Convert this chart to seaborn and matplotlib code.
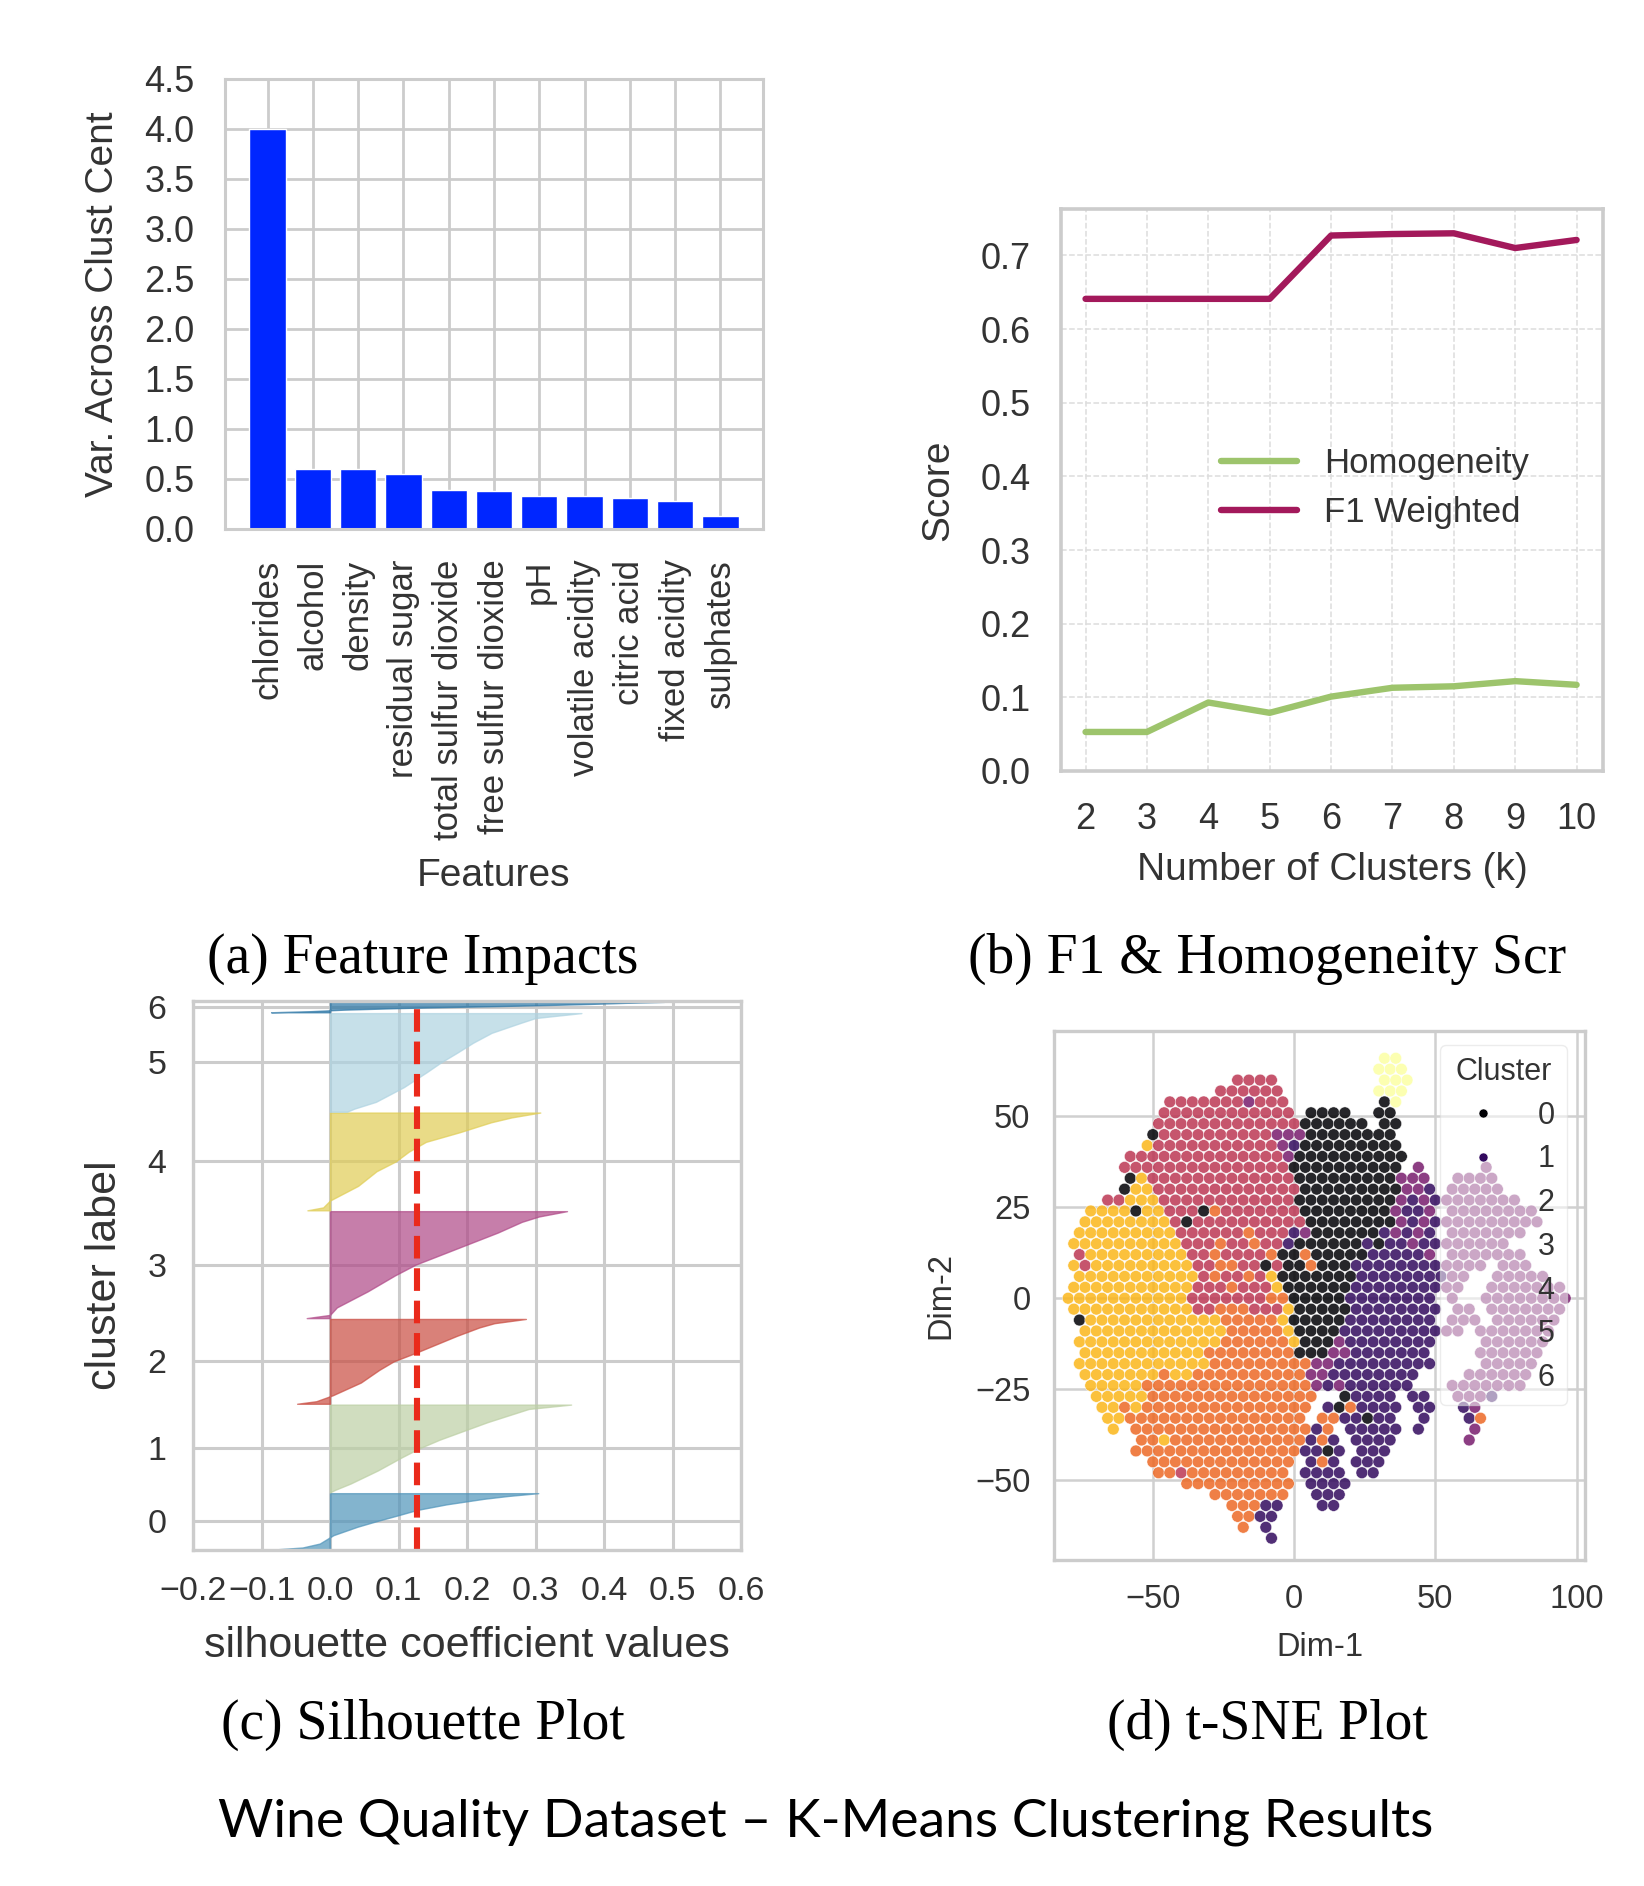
import numpy as np
import pandas as pd
import seaborn as sns
import matplotlib.pyplot as plt
from matplotlib.lines import Line2D

# ---- (a) feature impacts
features = ["chlorides", "alcohol", "density", "residual sugar",
            "total sulfur dioxide", "free sulfur dioxide", "pH",
            "volatile acidity", "citric acid", "fixed acidity", "sulphates"]
variance = [4.0, 0.60, 0.60, 0.547, 0.39, 0.378, 0.33, 0.33, 0.312, 0.276, 0.126]

# ---- (b) scores vs k
k_values = [2, 3, 4, 5, 6, 7, 8, 9, 10]
homogeneity = [0.053, 0.053, 0.093, 0.079, 0.101, 0.113, 0.115, 0.122, 0.117]
f1_weighted = [0.641, 0.641, 0.641, 0.641, 0.727, 0.729, 0.730, 0.710, 0.721]

# ---- (c) silhouette: cluster sizes and sorted values at quantile positions
sil_sizes = [670, 1050, 1015, 1280, 1170, 1180, 125]
sil_q = [0, 0.03, 0.1, 0.25, 0.4, 0.5, 0.6, 0.7, 0.8, 0.9, 0.95, 1.0]
sil_c0 = [-0.075, -0.04, -0.015, 0.005, 0.04, 0.068, 0.098, 0.127, 0.17, 0.225, 0.26, 0.304]
sil_c1 = [0.0, 0.008, 0.03, 0.07, 0.105, 0.13, 0.16, 0.195, 0.23, 0.27, 0.29, 0.352]
sil_c2 = [-0.048, -0.02, 0.004, 0.045, 0.072, 0.093, 0.125, 0.155, 0.185, 0.218, 0.24, 0.286]
sil_c3 = [-0.034, 0.0, 0.01, 0.055, 0.095, 0.125, 0.165, 0.205, 0.245, 0.28, 0.305, 0.346]
sil_c4 = [-0.033, -0.01, 0.0, 0.041, 0.068, 0.096, 0.115, 0.14, 0.19, 0.235, 0.265, 0.307]
sil_c5 = [0.025, 0.035, 0.067, 0.108, 0.141, 0.162, 0.186, 0.209, 0.236, 0.278, 0.30, 0.367]
sil_c6 = [-0.086, -0.07, -0.03, 0.02, 0.1, 0.17, 0.25, 0.32, 0.38, 0.43, 0.46, 0.488]
sil_avg = 0.127

# ---- (d) t-SNE cluster map
# one char per cell: x = -80 + 4*col (+2 on odd rows), y = 66 - 3*row
tsne_rows = [
    "..... ..... ..... ..... ..... ...66 ..... ..... .....",
    "..... ..... ..... ..... ..... ..666 ..... ..... .....",
    "..... ..... ..... 3333. ..... ...66 6.... ..... .....",
    "..... ..... ...33 3333. ..... ..666 ..... ..... .....",
    "..... ....3 33333 32333 ..... ...06 ..... ..... .....",
    "..... ...33 33333 33333 .0000 ..00. ..... ..... .....",
    "..... ...33 33333 33333 30000 00.00 ..... ..... .....",
    "..... ..033 33333 33322 20000 0000. ..... ..... .....",
    "..... ..533 33333 33332 10000 00000 ..... ..... .....",
    "..... 33333 33333 33332 00000 00000 ..... ..... .....",
    "..... 33333 33333 33333 00000 00000 .2... ..2.. .....",
    "..... 05333 33333 33333 00000 00002 22..2 222.. .....",
    "..... 05533 33333 33333 30000 00000 221.2 2222. .....",
    "...33 55533 33333 33333 00000 00002 12122 22222 .....",
    "..555 50553 33043 33333 30000 00002 112.2 22222 22...",
    ".5555 55553 03333 33333 30000 00002 12122 22222 22...",
    ".5555 55555 33333 34333 12000 00012 121.2 22222 2....",
    "55555 55555 33343 34331 00000 01011 21122 2222. .....",
    ".3555 55555 53343 33340 04000 00111 112.2 22222 2....",
    "53555 55555 53344 33030 04000 11111 11122 22.22 2....",
    ".5555 55555 55343 34350 00000 01111 11112 2..22 222..",
    "55555 55555 53334 33350 00000 11111 11122 ..222 2222.",
    "55555 55555 53333 33344 00000 11111 111.2 ..222 22222",
    "55555 55555 53344 43335 00000 11111 111.2 2.222 2222.",
    ".0555 55555 55554 44445 00000 11111 111.2 22.22 2222.",
    ".5555 55555 55554 44445 00001 11111 11122 .2222 222..",
    ".5555 55555 55554 44444 50002 11111 111.. ..222 222..",
    ".5555 55555 55444 44444 00022 11111 11... .2222 22...",
    ".5555 55555 55544 44444 44221 11111 111.. ..222 22...",
    ".5555 55545 54444 44444 42211 11111 1.... 22222 2....",
    "..555 55444 44444 44444 44212 11111 1...2 22222 2....",
    "..555 55444 44444 44444 44..0 1111. 11..2 221.. .....",
    "...55 45444 44444 44444 44.10 41111 .11.. 12... .....",
    "...55 44444 44444 44444 4.441 1011. .1... 14... .....",
    "....5 .4444 44444 44444 4414. 11111 .1... .2... .....",
    "..... .4454 44444 44444 4141. 1111. ..... 2.... .....",
    "..... .4444 44444 44444 41101 .111. ..... ..... .....",
    "..... ..444 44444 44444 .141. 111.. ..... ..... .....",
    "..... ...44 34444 44444 .1111 .11.. ..... ..... .....",
    "..... ..... 44444 44444 .1111 ..... ..... ..... .....",
    "..... ..... ...44 44444 ..111 ..... ..... ..... .....",
    "..... ..... ....4 4411. ..11. ..... ..... ..... .....",
    "..... ..... ..... 4411. ..... ..... ..... ..... .....",
    "..... ..... ..... 4.1.. ..... ..... ..... ..... .....",
    "..... ..... ..... ...1. ..... ..... ..... ..... .....",
]

W, H = 1644, 1886
txt = "#333333"

sns.set_theme(style="whitegrid")
plt.rcParams["font.family"] = ["Liberation Sans", "DejaVu Sans"]
plt.rcParams["text.color"] = txt
plt.rcParams["axes.labelcolor"] = txt
plt.rcParams["xtick.color"] = txt
plt.rcParams["ytick.color"] = txt


def box(left, right, top, bottom):
    return [left / W, 1 - bottom / H, (right - left) / W, (bottom - top) / H]


fig = plt.figure(figsize=(W / 100, H / 100), dpi=100)
ax_a = fig.add_axes(box(225, 763, 79, 529))
ax_b = fig.add_axes(box(1061, 1603, 209, 771))
ax_c = fig.add_axes(box(193, 741, 1001, 1550))
ax_d = fig.add_axes(box(1054, 1585, 1031, 1560))


def frame(ax, lw):
    for s in ax.spines.values():
        s.set_color("#cccccc")
        s.set_linewidth(lw)


# (a)
df_a = pd.DataFrame({"feature": features, "variance": variance})
sns.barplot(data=df_a, x="feature", y="variance", color="#0026ff",
            saturation=1, width=0.8, ax=ax_a)
ax_a.set_xlim(-0.94, 10.94)
ax_a.set_ylim(0, 4.5)
ax_a.set_yticks(np.arange(0, 4.51, 0.5))
ax_a.grid(True, axis="both", color="#cccccc", lw=2)
ax_a.set_axisbelow(True)
ax_a.tick_params(axis="x", labelrotation=90, labelsize=25, pad=22, length=0)
ax_a.tick_params(axis="y", labelsize=26, pad=22, length=0)
ax_a.set_xlabel("Features", fontsize=28)
ax_a.set_ylabel("Var. Across Clust Cent", fontsize=28)
ax_a.xaxis.set_label_coords(0.5, -0.73)
ax_a.yaxis.set_label_coords(-0.193, 0.5)
frame(ax_a, 2.2)

# (b)
sns.lineplot(x=k_values, y=homogeneity, color="#9dc46c", lw=4.6,
             label="Homogeneity", ax=ax_b)
sns.lineplot(x=k_values, y=f1_weighted, color="#a3195b", lw=4.6,
             label="F1 Weighted", ax=ax_b)
ax_b.set_xlim(1.6, 10.43)
ax_b.set_ylim(0, 0.763)
ax_b.set_xticks(k_values)
ax_b.set_yticks(np.arange(0, 0.71, 0.1))
ax_b.grid(True, ls="--", color="#dddddd", lw=1.1)
ax_b.tick_params(labelsize=26, pad=22, length=0)
ax_b.set_xlabel("Number of Clusters (k)", fontsize=28)
ax_b.set_ylabel("Score", fontsize=28)
ax_b.xaxis.set_label_coords(0.5, -0.144)
ax_b.yaxis.set_label_coords(-0.194, 0.5)
ax_b.legend(frameon=False, fontsize=25, loc="upper left",
            bbox_to_anchor=(0.237, 0.632), handlelength=2.2,
            handletextpad=0.77, labelspacing=0.45)
frame(ax_b, 2.6)

# (c)
sil_profiles = [sil_c0, sil_c1, sil_c2, sil_c3, sil_c4, sil_c5, sil_c6]
sil_colors = ["#4f94ba", "#bccfa4", "#c94c41", "#af4887",
              "#e0cd55", "#aed3e1", "#2a75a5"]
y_lower = 10
sil_ticks = []
for k in range(len(sil_sizes)):
    yy = y_lower + np.array(sil_q) * sil_sizes[k]
    ax_c.fill_betweenx(yy, 0, sil_profiles[k], facecolor=sil_colors[k],
                       edgecolor=sil_colors[k], alpha=0.7, lw=1)
    sil_ticks.append(y_lower + 0.5 * sil_sizes[k])
    y_lower += sil_sizes[k] + 10
ax_c.axvline(sil_avg, color="#ea2a1b", ls="--", lw=4.4)
ax_c.set_ylim(0, y_lower)
ax_c.set_xlim(-0.2, 0.6)
ax_c.set_xticks(np.round(np.arange(-0.2, 0.61, 0.1), 1))
ax_c.set_yticks(sil_ticks)
ax_c.set_yticklabels([str(k) for k in range(len(sil_sizes))])
ax_c.grid(True, color="#cccccc", lw=2.2)
ax_c.tick_params(labelsize=24.5, pad=19, length=0)
ax_c.set_xlabel("silhouette coefficient values", fontsize=31)
ax_c.set_ylabel("cluster label", fontsize=31)
ax_c.xaxis.set_label_coords(0.5, -0.138)
ax_c.yaxis.set_label_coords(-0.124, 0.5)
frame(ax_c, 2.4)

# (d)
pts = []
for i, row in enumerate(tsne_rows):
    row = row.replace(" ", "")
    for j, ch in enumerate(row):
        if ch != ".":
            pts.append((-80 + 4 * j + 2 * (i % 2), 66 - 3 * i, int(ch)))
df_d = pd.DataFrame(pts, columns=["x", "y", "cluster"])
sns.scatterplot(data=df_d, x="x", y="y", hue="cluster", palette="inferno",
                hue_norm=(0, 6), s=72, alpha=0.85, edgecolor="white",
                linewidth=0.4, legend=False, ax=ax_d)
ax_d.set_xlim(-85, 103)
ax_d.set_ylim(-72, 73.5)
ax_d.set_xticks([-50, 0, 50, 100])
ax_d.set_yticks([-50, -25, 0, 25, 50])
ax_d.grid(True, color="#d0d0d0", lw=1.8)
ax_d.tick_params(labelsize=23.5, pad=17, length=0)
ax_d.set_xlabel("Dim-1", fontsize=23.5)
ax_d.set_ylabel("Dim-2", fontsize=23.5)
ax_d.xaxis.set_label_coords(0.5, -0.136)
ax_d.yaxis.set_label_coords(-0.183, 0.5)
cmap = plt.get_cmap("inferno")
handles = []
for k in range(7):
    if k < 2:
        handles.append(Line2D([], [], ls="", marker="o", markersize=6.5,
                              markerfacecolor=cmap(k / 6), markeredgecolor="white",
                              markeredgewidth=0.4))
    else:
        handles.append(Line2D([], [], ls="", marker=""))
leg = ax_d.legend(handles, [str(k) for k in range(7)], title="Cluster",
                  fontsize=22, title_fontsize=22, loc="upper right",
                  bbox_to_anchor=(0.966, 0.974), borderaxespad=0,
                  framealpha=0.55, labelspacing=0.45)
leg.get_frame().set_edgecolor("#dddddd")
frame(ax_d, 2.4)

# captions
serif = ["Liberation Serif", "DejaVu Serif"]
fig.text(423 / W, 1 - 959 / H, "(a) Feature Impacts", ha="center", va="center",
         fontsize=40, family=serif, color="black")
fig.text(1267 / W, 1 - 959 / H, "(b) F1 & Homogeneity Scr", ha="center",
         va="center", fontsize=40, family=serif, color="black")
fig.text(423 / W, 1 - 1725 / H, "(c) Silhouette Plot", ha="center", va="center",
         fontsize=40, family=serif, color="black")
fig.text(1267 / W, 1 - 1725 / H, "(d) t-SNE Plot", ha="center", va="center",
         fontsize=40, family=serif, color="black")
fig.text(826 / W, 1 - 1822 / H, "Wine Quality Dataset \u2013 K-Means Clustering Results",
         ha="center", va="center", fontsize=38.5, family=["Lato", "DejaVu Sans"],
         color="black")

fig.savefig("out.png", dpi=100)
